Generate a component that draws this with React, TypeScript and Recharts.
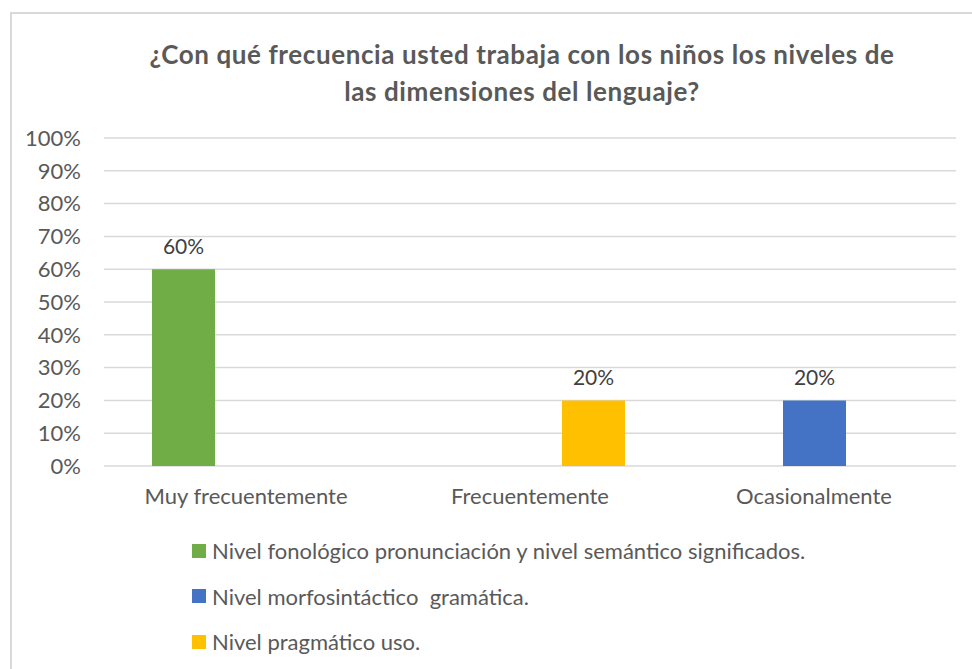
import { Bar, BarChart, CartesianGrid, LabelList, Legend, XAxis, YAxis } from "recharts";

const categories = ["Muy frecuentemente", "Frecuentemente", "Ocasionalmente"];
const fonologico = [0.6, 0, 0];
const morfosintactico = [0, 0, 0.2];
const pragmatico = [0, 0.2, 0];
const yTicks = [0, 0.1, 0.2, 0.3, 0.4, 0.5, 0.6, 0.7, 0.8, 0.9, 1];

const seriesNames = [
    "Nivel fonológico pronunciación y nivel semántico significados.",
    "Nivel morfosintáctico  gramática.",
    "Nivel pragmático uso.",
];

const data = categories.map((name, i) => ({
    name,
    fonologico: fonologico[i],
    morfosintactico: morfosintactico[i],
    pragmatico: pragmatico[i],
}));

const FONT = "Lato, 'Open Sans', sans-serif";
const AXIS_COLOR = "#595959";

const pct = (v: number) => `${Math.round(v * 100)}%`;
const labelFmt = (v: unknown) => (typeof v === "number" && v > 0 ? pct(v) : "");

interface LegendEntry {
    value?: string;
    color?: string;
}

function LegendList({ payload }: { payload?: LegendEntry[] }) {
    return (
        <div>
            {(payload ?? []).map((e) => (
                <div key={e.value} style={{ display: "flex", alignItems: "center", height: 45.5 }}>
                    <span style={{ width: 14, height: 14, background: e.color, marginRight: 6 }} />
                    <span style={{ fontSize: 22, color: AXIS_COLOR, whiteSpace: "pre", fontFamily: FONT }}>
                        {e.value}
                    </span>
                </div>
            ))}
        </div>
    );
}

export default function App() {
    return (
        <div style={{ position: "absolute", left: 0, top: 0, width: 972, height: 669, overflow: "hidden", background: "#fff" }}>
            <div
                style={{
                    position: "absolute",
                    left: 10,
                    top: 12,
                    width: 962,
                    height: 657,
                    boxSizing: "border-box",
                    borderTop: "2px solid #d9d9d9",
                    borderLeft: "2px solid #d9d9d9",
                }}
            />
            <div
                style={{
                    position: "absolute",
                    left: 122,
                    top: 36,
                    width: 800,
                    textAlign: "center",
                    fontFamily: FONT,
                    fontWeight: 700,
                    fontSize: 26,
                    letterSpacing: 0.6,
                    lineHeight: "37px",
                    color: AXIS_COLOR,
                    whiteSpace: "nowrap",
                }}
            >
                ¿Con qué frecuencia usted trabaja con los niños los niveles de
                <br />
                las dimensiones del lenguaje?
            </div>
            <BarChart
                width={972}
                height={669}
                data={data}
                margin={{ top: 138, right: 16, left: 0, bottom: 143 }}
                barGap={0}
                barCategoryGap={48}
                style={{ position: "absolute", left: 0, top: 0, fontFamily: FONT }}
            >
                <CartesianGrid vertical={false} stroke="#d9d9d9" strokeWidth={1.5} />
                <XAxis
                    dataKey="name"
                    axisLine={false}
                    tickLine={false}
                    tickSize={0}
                    tickMargin={22}
                    height={60}
                    interval={0}
                    tick={{ fill: AXIS_COLOR, fontSize: 22 }}
                />
                <YAxis
                    domain={[0, 1]}
                    ticks={yTicks}
                    tickFormatter={pct}
                    axisLine={false}
                    tickLine={false}
                    tickSize={0}
                    tickMargin={23}
                    width={104}
                    interval={0}
                    tick={{ fill: AXIS_COLOR, fontSize: 22 }}
                />
                <Legend
                    layout="vertical"
                    align="center"
                    verticalAlign="middle"
                    content={<LegendList />}
                    wrapperStyle={{ left: 192, top: 528, width: 760 }}
                />
                <Bar dataKey="fonologico" name={seriesNames[0]} fill="#70ad47" isAnimationActive={false}>
                    <LabelList dataKey="fonologico" position="top" offset={15} formatter={labelFmt} fill="#404040" fontSize={21} />
                </Bar>
                <Bar dataKey="morfosintactico" name={seriesNames[1]} fill="#4472c4" isAnimationActive={false}>
                    <LabelList dataKey="morfosintactico" position="top" offset={15} formatter={labelFmt} fill="#404040" fontSize={21} />
                </Bar>
                <Bar dataKey="pragmatico" name={seriesNames[2]} fill="#ffc000" isAnimationActive={false}>
                    <LabelList dataKey="pragmatico" position="top" offset={15} formatter={labelFmt} fill="#404040" fontSize={21} />
                </Bar>
            </BarChart>
        </div>
    );
}
